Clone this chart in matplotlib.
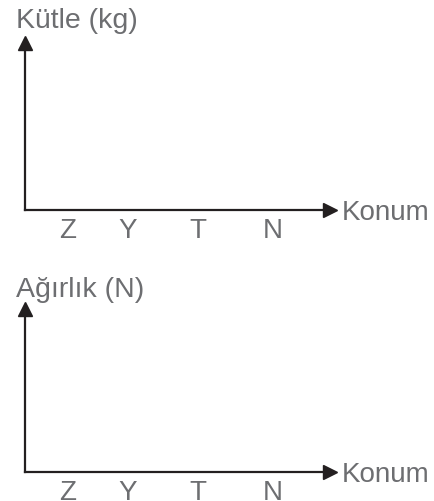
import matplotlib
matplotlib.use("Agg")
import matplotlib.pyplot as plt

plt.rcParams['font.family'] = ['Liberation Sans', 'DejaVu Sans']

categories = ['Z', 'Y', 'T', 'N']
y_titles = ['Kütle (kg)', 'Ağırlık (N)']
x_title = 'Konum'

# layout (pixels)
W, H = 434, 501
tick_pos = [43, 103, 173, 248]
panels = [  # (spine y from top, axis top y from top, title y)
    (210, 43, 21),
    (472, 309, 290),
]
text_color = '#6d6e71'
line_color = '#231f20'

fig = plt.figure(figsize=(W / 100, H / 100), dpi=100)

for (spine_y, top_y, title_y), title in zip(panels, y_titles):
    ax = fig.add_axes([25 / W, (H - spine_y) / H, 305 / W, (spine_y - top_y) / H])
    ax.set_xlim(0, 305)
    ax.set_ylim(0, 1)
    for s in ['top', 'right']:
        ax.spines[s].set_visible(False)
    for s in ['left', 'bottom']:
        ax.spines[s].set_color(line_color)
        ax.spines[s].set_linewidth(1.6)
    ax.set_xticks(tick_pos)
    ax.set_xticklabels(categories)
    ax.set_yticks([])
    ax.tick_params(axis='x', length=0, pad=6, labelsize=20, labelcolor=text_color)
    ax.plot(1, 0, '>', color=line_color, ms=9.5, transform=ax.transAxes, clip_on=False)
    ax.plot(0, 1, '^', color=line_color, ms=9.5, transform=ax.transAxes, clip_on=False)
    fig.text(16 / W, 1 - title_y / H, title, ha='left', va='center',
             fontsize=20.5, color=text_color)
    fig.text(342 / W, 1 - (spine_y + 3) / H, x_title, ha='left', va='center',
             fontsize=20, color=text_color)

fig.savefig('out.png', dpi=100)
